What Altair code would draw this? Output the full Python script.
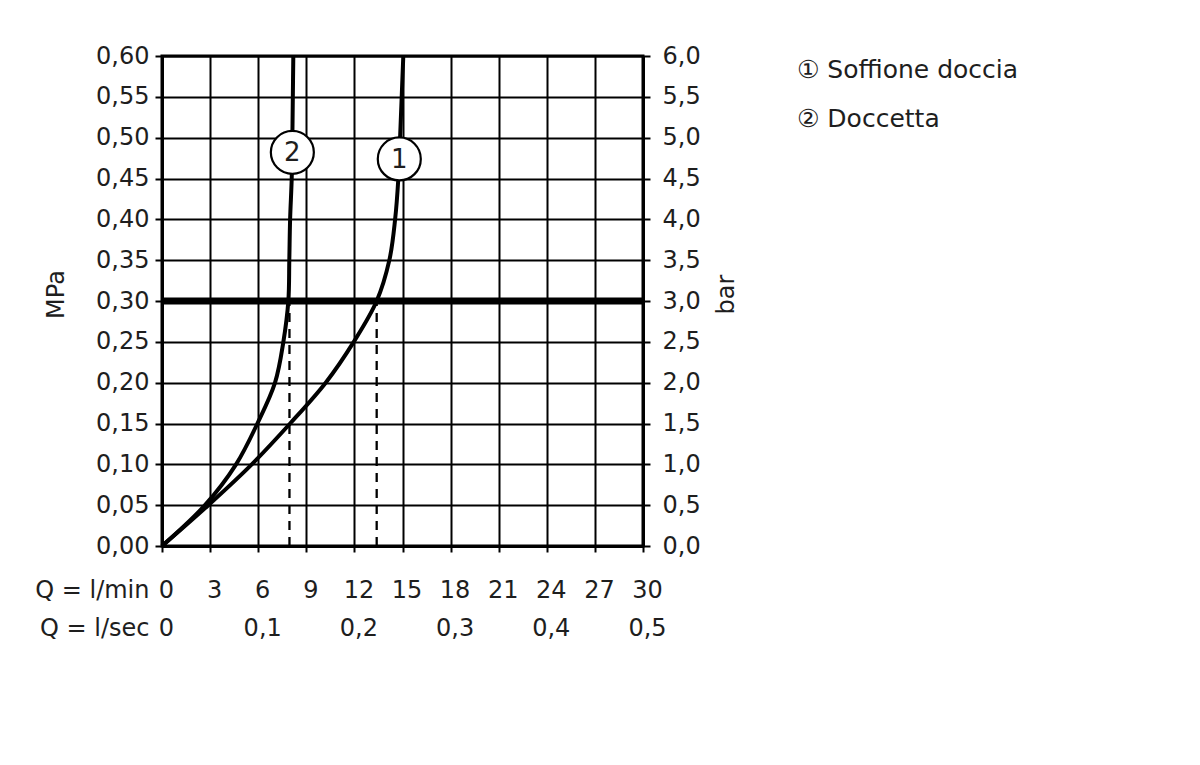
import altair as alt
import pandas as pd

# ---- data ----
pressure_mpa = [0.00, 0.05, 0.10, 0.15, 0.20, 0.25, 0.30, 0.35, 0.40, 0.45, 0.50, 0.55, 0.60]
flow_soffione = [0.0, 2.89, 5.60, 7.99, 10.21, 11.96, 13.39, 14.18, 14.54, 14.74, 14.85, 14.95, 15.05]
flow_doccetta = [0.0, 2.68, 4.62, 5.95, 7.05, 7.57, 7.88, 7.94, 7.99, 8.09, 8.13, 8.16, 8.19]
series_names = ["① Soffione doccia", "② Doccetta"]

marker_labels = ["1", "2"]
marker_flow = [14.80, 8.13]
marker_mpa = [0.474, 0.482]

ref_flow = [13.39, 7.95]      # dashed read-off lines
ref_low = [0.0, 0.0]
ref_high = [0.30, 0.30]
operating_mpa = [0.30]       # thick line

x_ticks = [0, 3, 6, 9, 12, 15, 18, 21, 24, 27, 30]
sec_ticks = [0, 6, 12, 18, 24, 30]
y_ticks = [0.00, 0.05, 0.10, 0.15, 0.20, 0.25, 0.30, 0.35, 0.40, 0.45, 0.50, 0.55, 0.60]

FONT = "DejaVu Sans"
TXT = "#1e1e1e"

curves = pd.concat([
    pd.DataFrame({"Q": flow_soffione, "P": pressure_mpa, "serie": series_names[0]}),
    pd.DataFrame({"Q": flow_doccetta, "P": pressure_mpa, "serie": series_names[1]}),
])
markers = pd.DataFrame({"Q": marker_flow, "P": marker_mpa, "lbl": marker_labels})
refs = pd.DataFrame({"Q": ref_flow, "lo": ref_low, "hi": ref_high})
oper = pd.DataFrame({"P": operating_mpa})

xs = alt.Scale(domain=[0, 30], nice=False, zero=False)
ys = alt.Scale(domain=[0, 0.6], nice=False, zero=False)

common_axis = dict(labelFont=FONT, titleFont=FONT, labelFontSize=24, titleFontSize=24,
                   labelColor=TXT, titleColor=TXT, titleFontWeight="normal",
                   labelFlush=False, labelOverlap=False)

x_axis_min = alt.Axis(values=x_ticks, orient="bottom", grid=True, gridColor="black", gridWidth=2,
                      gridOpacity=1, domain=True, domainColor="black", domainWidth=3,
                      ticks=True, tickSize=6, tickColor="black", tickWidth=2,
                      labelPadding=45, labelBaseline="alphabetic", labelOffset=4,
                      title="Q = l/min", titleX=-13, titleY=51, titleAlign="right",
                      titleBaseline="alphabetic", titleAngle=0, **common_axis)

x_axis_sec = alt.Axis(values=sec_ticks, orient="bottom", grid=False, domain=False,
                      ticks=False, tickSize=0, labelPadding=89, labelBaseline="alphabetic",
                      labelOffset=4,
                      labelExpr="datum.value === 0 ? '0' : replace(format(datum.value / 60, '.1f'), '.', ',')",
                      title="Q = l/sec", titleX=-13, titleY=89, titleAlign="right",
                      titleBaseline="alphabetic", titleAngle=0, **common_axis)

y_axis_mpa = alt.Axis(values=y_ticks, orient="left", grid=True, gridColor="black", gridWidth=2,
                      gridOpacity=1, domain=True, domainColor="black", domainWidth=3,
                      ticks=True, tickSize=7, tickColor="black", tickWidth=2, labelPadding=6,
                      labelExpr="replace(format(datum.value, '.2f'), '.', ',')",
                      title="MPa", titleAngle=270, titleX=-99, titleY=238, titleAlign="center",
                      titleBaseline="alphabetic", **common_axis)

y_axis_bar = alt.Axis(values=y_ticks, orient="right", grid=False, domain=True, domainColor="black",
                      domainWidth=3, ticks=True, tickSize=7, tickColor="black", tickWidth=2,
                      labelPadding=12, labelAlign="left",
                      labelExpr="replace(format(datum.value * 10, '.1f'), '.', ',')",
                      title="bar", titleAngle=270, titleX=90, titleY=238, titleAlign="center",
                      titleBaseline="alphabetic", **common_axis)

lines = alt.Chart(curves).mark_line(strokeWidth=4, interpolate="catmull-rom").encode(
    x=alt.X("Q:Q", scale=xs, axis=x_axis_min),
    y=alt.Y("P:Q", scale=ys, axis=y_axis_mpa),
    color=alt.Color("serie:N", scale=alt.Scale(domain=series_names, range=["black", "black"]),
                    legend=alt.Legend(orient="none", legendX=610, legendY=1, title=None,
                                      labelFont=FONT, labelFontSize=25, labelColor=TXT,
                                      labelLimit=400, symbolSize=0, symbolOpacity=0,
                                      symbolStrokeWidth=0, labelOffset=0, padding=0,
                                      rowPadding=23)),
)

dashed = alt.Chart(refs).mark_rule(strokeDash=[9, 7], strokeWidth=2.3, color="black").encode(
    x=alt.X("Q:Q", scale=xs, axis=x_axis_sec),
    y=alt.Y("lo:Q", scale=ys, axis=y_axis_bar),
    y2="hi:Q",
)

thick = alt.Chart(oper).mark_rule(strokeWidth=7, color="black").encode(
    y=alt.Y("P:Q", scale=ys, axis=None),
)

circles = alt.Chart(markers).mark_point(shape="circle", filled=True, fill="white", stroke="black",
                                        strokeWidth=2.2, size=1850, opacity=1).encode(
    x=alt.X("Q:Q", scale=xs, axis=None),
    y=alt.Y("P:Q", scale=ys, axis=None),
)

digits = alt.Chart(markers).mark_text(font=FONT, fontSize=26, color=TXT, align="center",
                                      baseline="middle", dy=1).encode(
    x=alt.X("Q:Q", scale=xs, axis=None),
    y=alt.Y("P:Q", scale=ys, axis=None),
    text="lbl:N",
)

chart = alt.layer(lines, dashed, thick, circles, digits).resolve_scale(
    x="shared", y="shared"
).resolve_axis(
    x="independent", y="independent"
).properties(
    width=481, height=490,
    autosize=alt.AutoSizeParams(type="none"),
    padding={"left": 154, "top": 48, "right": 420, "bottom": 120},
).configure_view(stroke="black", strokeWidth=3)

chart.save("out.html", embed_options={"renderer": "svg", "actions": False})
